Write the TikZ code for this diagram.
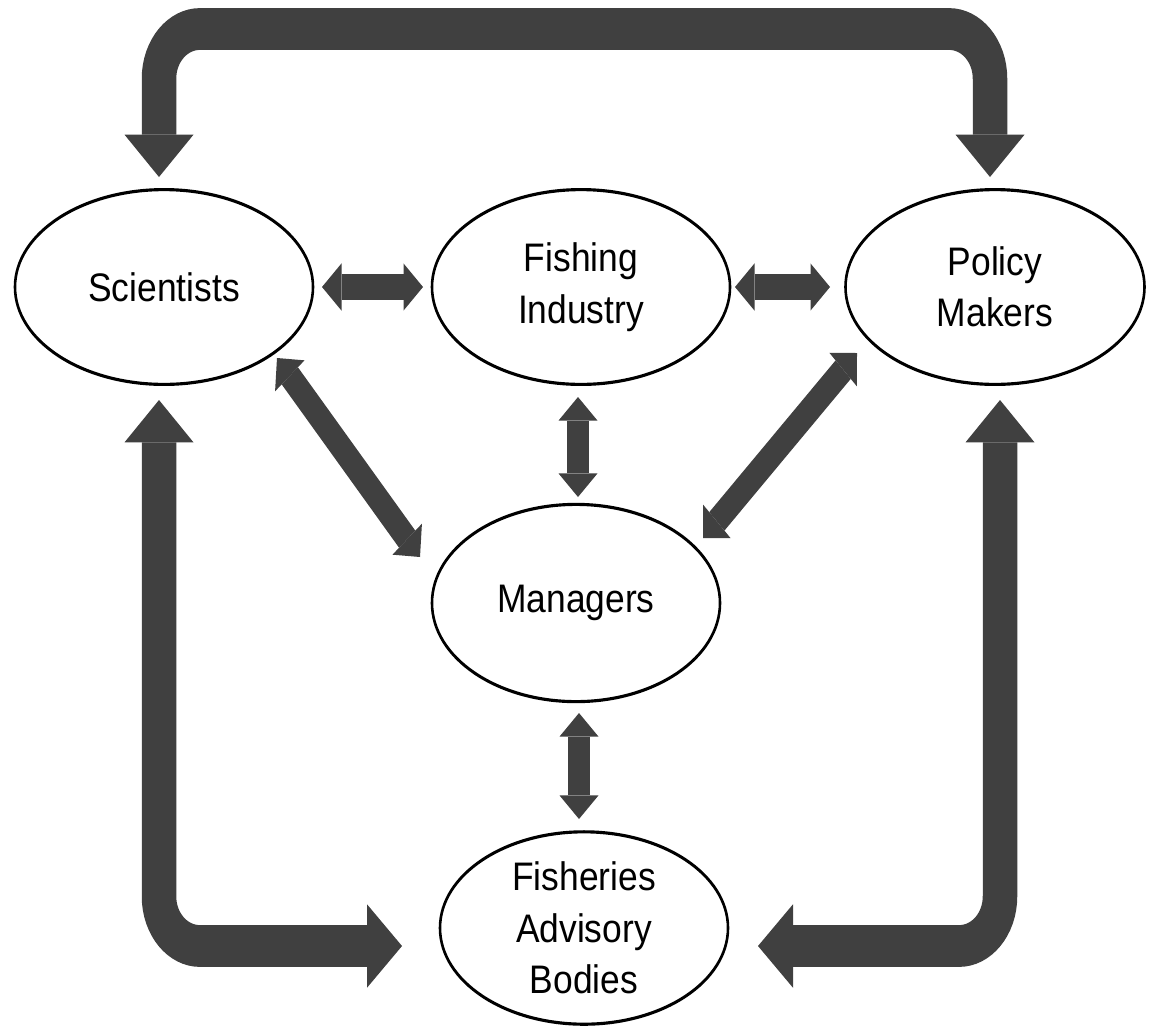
\documentclass[tikz,border=0pt]{standalone}
\usepackage{fontspec}
\setmainfont{Liberation Sans}[FakeStretch=1.076]
\usetikzlibrary{arrows.meta,calc,shapes.geometric}
\definecolor{arrowgray}{HTML}{404040}
\tikzset{
  actor/.style={ellipse, draw=black, line width=2.6pt, minimum width=298pt,
    minimum height=161pt, inner sep=0pt, align=center,
    font=\fontsize{32.9}{42.5}\selectfont},
  bigtip/.tip={Triangle[width=69pt,length=35pt,line width=0pt]},
  smalltip/.tip={Triangle[width=39pt,length=19.5pt,line width=0pt]},
  bigarrow/.style={draw=arrowgray, line width=34.5pt, rounded corners=41pt, bigtip-bigtip},
  smallarrow/.style={draw=arrowgray, line width=21.5pt, smalltip-smalltip}
}
\begin{document}
\begin{tikzpicture}[x=1pt,y=-1pt]
\useasboundingbox[fill=white] (0,0) rectangle (1151,1026);
\begin{scope}[transform canvas={yscale=1.21}, y=-0.82645pt]
  \node[actor] (sci) at (164,287) {Scientists};
  \node[actor] (fish) at (581,287) {Fishing\\Industry};
  \node[actor, minimum width=299pt] (pol) at (995,287) {Policy\\Makers};
  \node[actor, minimum width=288pt, minimum height=163pt] (man) at (576,603) {Managers};
  \node[actor, minimum width=288pt, minimum height=159pt] (fab) at (584,928) {Fisheries\\Advisory\\Bodies};

  \draw[bigarrow] ($(sci)+(-5,-110)$) -- ++(0,-148) -| ($(pol)+(-5,-110)$);
  \draw[bigarrow] ($(sci)+(-5,113)$) |- ($(fab)+(-182,18)$);
  \draw[bigarrow] ($(pol)+(5,113)$) |- ($(fab)+(174,18)$);

  \draw[smallarrow] ($(sci)+(158,0)$) -- ($(fish)+(-158,0)$);
  \draw[smallarrow] ($(fish)+(154,0)$) -- ($(pol)+(-165,0)$);
  \draw[smallarrow] ($(fish)+(-3,110)$) -- ($(man)+(2,-106)$);
  \draw[smallarrow] ($(sci)+(113,71)$) -- ($(man)+(-156,-46)$);
  \draw[smallarrow] ($(pol)+(-138,66)$) -- ($(man)+(127,-65)$);
  \draw[smallarrow] ($(man)+(3,110)$) -- ($(fab)+(-5,-109)$);
\end{scope}
\end{tikzpicture}
\end{document}
